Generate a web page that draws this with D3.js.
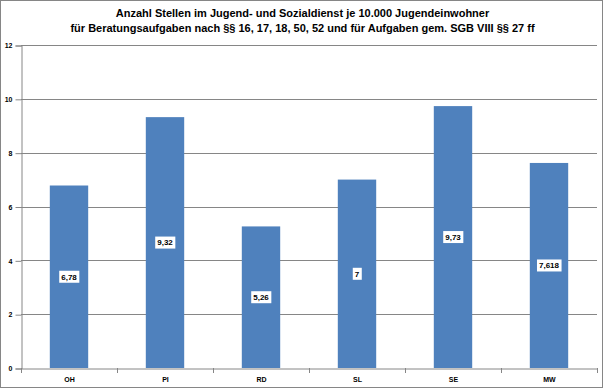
<!DOCTYPE html>
<html><head><meta charset="utf-8">
<script src="https://cdn.jsdelivr.net/npm/d3@7"></script>
<style>body{margin:0;background:#fff}svg{display:block}</style>
</head><body>
<script>
const categories = ["OH","PI","RD","SL","SE","MW"];
const values = [6.78, 9.32, 5.26, 7, 9.73, 7.618];
const valueLabels = ["6,78","9,32","5,26","7","9,73","7,618"];
const yTicks = [0,2,4,6,8,10,12];
const titleLines = ["Anzahl Stellen im Jugend- und Sozialdienst je 10.000 Jugendeinwohner",
  "für Beratungsaufgaben nach §§ 16, 17, 18, 50, 52 und für Aufgaben gem. SGB VIII §§ 27 ff"];

(function(){
const W=605,H=390;
const svg=d3.select("body").append("svg").attr("width",W).attr("height",H);
svg.append("rect").attr("x",0.5).attr("y",0.5).attr("width",W-3).attr("height",H-3)
  .attr("fill","#fff").attr("stroke","#868686").attr("stroke-width",1);

const pL=21,pR=597,pT=45,pB=368;
const x=d3.scaleBand().domain(categories).range([pL,pR]).paddingInner(0.6).paddingOuter(0.3);
const xb=d3.scaleBand().domain(categories).range([pL,pR]);
const y=d3.scaleLinear().domain([0,12]).range([pB,pT]);

const font="'Liberation Sans', Arial, sans-serif";
svg.selectAll("text.title").data(titleLines).enter().append("text")
  .attr("x",W/2).attr("y",(d,i)=>17+i*15).attr("text-anchor","middle")
  .attr("font-family",font).attr("font-weight","bold").attr("font-size",11).text(d=>d);

svg.append("g").selectAll("line").data(yTicks.filter(d=>d>0)).enter().append("line")
  .attr("x1",pL).attr("x2",pR).attr("y1",d=>Math.round(y(d))+0.5).attr("y2",d=>Math.round(y(d))+0.5)
  .attr("stroke","#868686");

const ya=svg.append("g").attr("transform",`translate(${pL+0.5},0.5)`)
  .call(d3.axisLeft(y).tickValues(yTicks).tickSize(6).tickPadding(3).tickFormat(d3.format("d")));
ya.select(".domain").attr("stroke","#868686");
ya.selectAll(".tick line").attr("stroke","#868686");
ya.selectAll("text").attr("font-family",font).attr("font-weight","bold").attr("font-size",7).attr("fill","#000");

svg.append("g").selectAll("rect").data(values).enter().append("rect")
  .attr("x",(d,i)=>x(categories[i])).attr("width",x.bandwidth())
  .attr("y",d=>y(d)).attr("height",d=>pB-y(d)).attr("fill","#4F81BD");

const xa=svg.append("g").attr("transform",`translate(0.5,${pB+0.5})`)
  .call(d3.axisBottom(xb).tickSize(0).tickPadding(9));
xa.select(".domain").attr("stroke","#868686");
xa.selectAll("text").attr("font-family",font).attr("font-weight","bold").attr("font-size",7).attr("fill","#000");
svg.append("g").selectAll("line").data(d3.range(categories.length+1)).enter().append("line")
  .attr("x1",i=>Math.round(pL+i*xb.step())+0.5).attr("x2",i=>Math.round(pL+i*xb.step())+0.5)
  .attr("y1",pB).attr("y2",pB+5).attr("stroke","#868686");

const lg=svg.append("g").selectAll("g").data(values).enter().append("g")
  .attr("transform",(d,i)=>`translate(${x(categories[i])+x.bandwidth()/2},${y(d/2)})`);
lg.append("text").attr("text-anchor","middle").attr("dy","0.35em")
  .attr("font-family",font).attr("font-weight","bold").attr("font-size",8)
  .text((d,i)=>valueLabels[i]);
lg.each(function(){
  const g=d3.select(this), bb=g.select("text").node().getBBox();
  g.insert("rect","text").attr("x",bb.x-2).attr("y",-6).attr("width",bb.width+4).attr("height",12).attr("fill","#fff");
});
})();
</script>
</body></html>
